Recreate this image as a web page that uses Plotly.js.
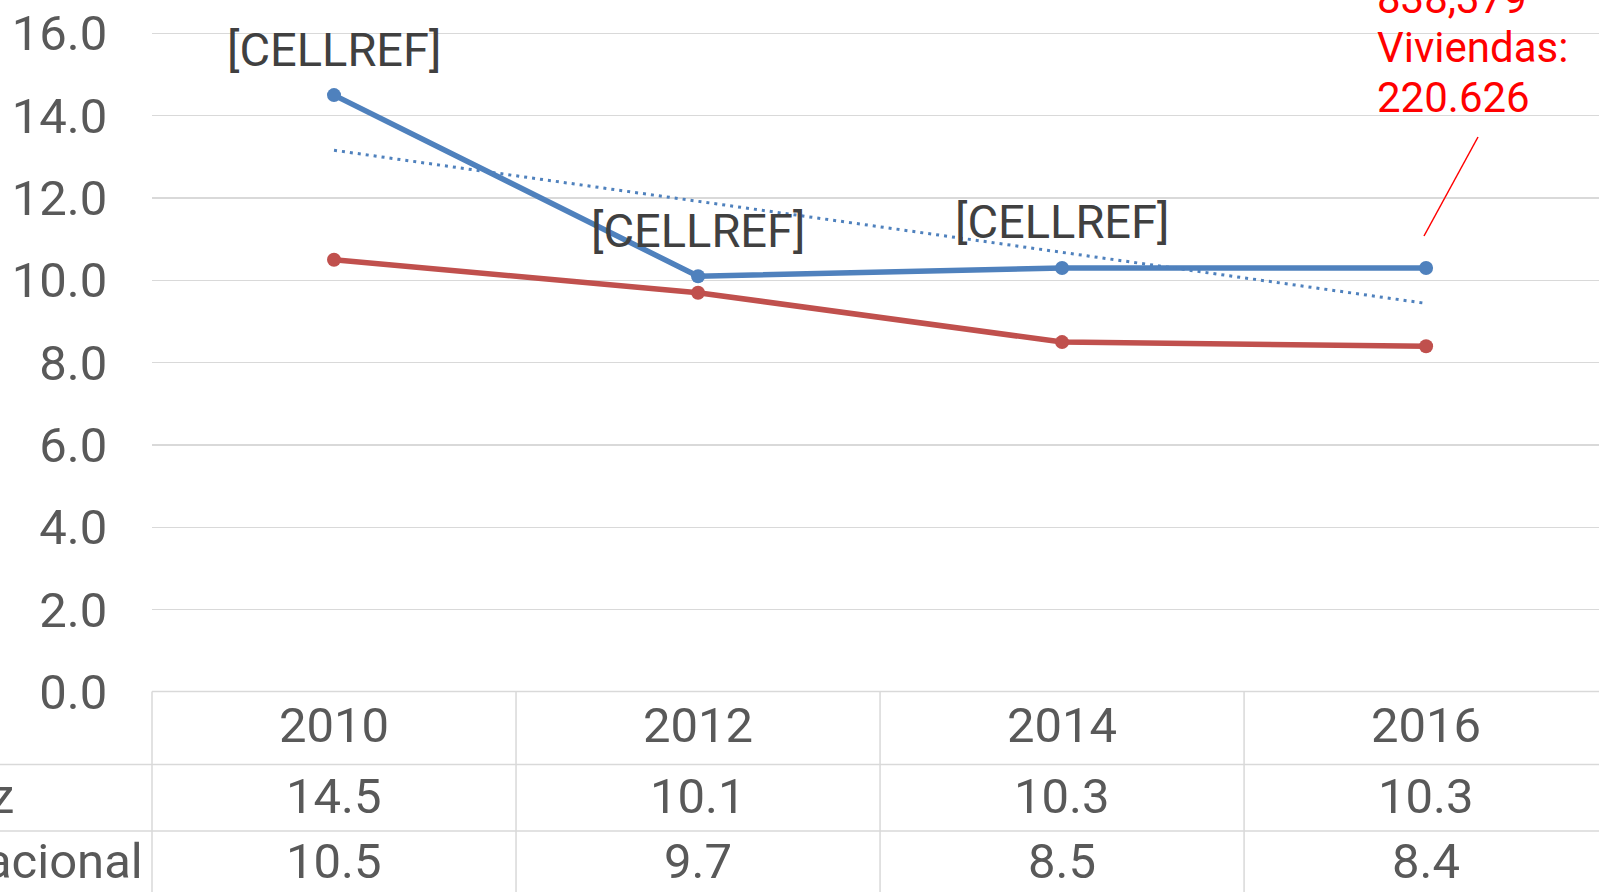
<!DOCTYPE html>
<html>
<head>
<meta charset="utf-8">
<script src="https://cdn.plot.ly/plotly-3.0.1.min.js"></script>
<style>
  html, body { margin: 0; padding: 0; background: #ffffff; overflow: hidden; }
  #chart { width: 1599px; height: 892px; }
</style>
</head>
<body>
<div id="chart"></div>
<script>
// ---- data ----
const years = ['2010', '2012', '2014', '2016'];
const serieProvincia = [14.5, 10.1, 10.3, 10.3];   // blue line
const serieNacional = [10.5, 9.7, 8.5, 8.4];       // red line
const trendProvincia = [13.16, 9.44];              // dotted linear trend, 2010 -> 2016
const yTickVals = [0, 2, 4, 6, 8, 10, 12, 14, 16];
const rowLabels = ['z', 'Nacional'];
const pointLabels = ['[CELLREF]', '[CELLREF]', '[CELLREF]'];
const calloutLines = ['838,379', 'Viviendas:', '220.626'];

// ---- layout geometry (pixels) ----
const W = 1599, H = 892;
const plotL = 152, plotB = 200;
const plotW = W - plotL, plotH = H - plotB;
const xRange = [-0.5, 3.475];
const yRange = [0, 16.81];
const px2paperX = p => (p - plotL) / plotW;
const py2paperY = p => (plotH - p) / plotH;
const xToPaper = v => (v - xRange[0]) / (xRange[1] - xRange[0]);

const xIdx = years.map((_, i) => i);
const gridColor = '#D9D9D9';
const textGray = '#595959';
const FONT = 'Roboto, "Open Sans", sans-serif';

const traces = [
  {
    x: xIdx, y: serieNacional, type: 'scatter', mode: 'lines+markers',
    line: { color: '#C0504D', width: 5.5 },
    marker: { color: '#C0504D', size: 14 },
    hoverinfo: 'skip'
  },
  {
    x: xIdx, y: serieProvincia, type: 'scatter', mode: 'lines+markers',
    line: { color: '#4F81BD', width: 5.5 },
    marker: { color: '#4F81BD', size: 14 },
    hoverinfo: 'skip'
  },
  {
    x: [xIdx[0], xIdx[xIdx.length - 1]], y: trendProvincia, type: 'scatter', mode: 'lines',
    line: { color: '#4F81BD', width: 3, dash: '3px,5px' },
    hoverinfo: 'skip'
  }
];

const annotations = [];
// labels above the first three blue points
pointLabels.forEach((t, i) => {
  annotations.push({
    x: xIdx[i], y: serieProvincia[i], xref: 'x', yref: 'y',
    xanchor: 'center', yanchor: 'middle',
    text: t, showarrow: false, yshift: 46,
    font: { family: FONT, size: 47, color: '#404040' }
  });
});
// red callout text for the last point
const calloutY = [-2, 48, 98];
calloutLines.forEach((t, i) => {
  annotations.push({
    x: px2paperX(1375), y: py2paperY(calloutY[i]), xref: 'paper', yref: 'paper',
    xanchor: 'left', yanchor: 'middle', align: 'left',
    text: t, showarrow: false,
    font: { family: FONT, size: 42, color: '#FF0000' }
  });
});
// data table: header row of years and two value rows
const rowY = [726, 796, 862];
const cellFont = { family: FONT, size: 49, color: textGray };
years.forEach((yr, i) => {
  const xp = xToPaper(xIdx[i]);
  const cells = [yr, serieProvincia[i].toFixed(1), serieNacional[i].toFixed(1)];
  cells.forEach((t, r) => {
    annotations.push({ x: xp, y: py2paperY(rowY[r]), xref: 'paper', yref: 'paper',
      xanchor: 'center', yanchor: 'middle',
      text: t, showarrow: false, font: cellFont });
  });
});
// row labels (cut off at the left edge)
const rowLabelRight = [16, 145];
rowLabels.forEach((t, i) => {
  annotations.push({ x: px2paperX(rowLabelRight[i]), y: py2paperY(rowY[i + 1]), xref: 'paper', yref: 'paper',
    xanchor: 'right', yanchor: 'middle', text: t, showarrow: false, font: cellFont });
});

const shapes = [];
// table top border
shapes.push({ type: 'line', xref: 'paper', yref: 'paper', x0: 0, x1: 1,
  y0: py2paperY(691.5), y1: py2paperY(691.5), line: { color: gridColor, width: 1.5 } });
// table row separators
[764.5, 831].forEach(p => {
  shapes.push({ type: 'line', xref: 'paper', yref: 'paper', x0: px2paperX(-5), x1: 1,
    y0: py2paperY(p), y1: py2paperY(p), line: { color: gridColor, width: 1.5 } });
});
// table column separators
xIdx.forEach(i => {
  const xp = xToPaper(i - 0.5);
  shapes.push({ type: 'line', xref: 'paper', yref: 'paper', x0: xp, x1: xp,
    y0: py2paperY(691.5), y1: py2paperY(H + 5), line: { color: gridColor, width: 1.5 } });
});
// leader line of the red callout
shapes.push({ type: 'line', xref: 'paper', yref: 'paper',
  x0: px2paperX(1424), y0: py2paperY(236), x1: px2paperX(1478), y1: py2paperY(137),
  line: { color: '#FF0000', width: 1.5 } });

const layout = {
  width: W, height: H,
  margin: { l: plotL, r: 0, t: 0, b: plotB, pad: 0 },
  paper_bgcolor: '#ffffff', plot_bgcolor: '#ffffff',
  showlegend: false,
  font: { family: FONT, color: textGray },
  xaxis: {
    range: xRange, showgrid: false, zeroline: false, showticklabels: false,
    showline: false, ticks: '', fixedrange: true
  },
  yaxis: {
    range: yRange, tickvals: yTickVals, tickformat: '.1f',
    showgrid: true, gridcolor: gridColor, gridwidth: 1.5,
    zeroline: false, showline: false,
    ticks: 'outside', ticklen: 34, tickcolor: 'rgba(0,0,0,0)',
    tickfont: { family: FONT, size: 49, color: textGray },
    fixedrange: true
  },
  annotations: annotations,
  shapes: shapes
};

Plotly.newPlot('chart', traces, layout, { displayModeBar: false, staticPlot: true });
</script>
</body>
</html>
